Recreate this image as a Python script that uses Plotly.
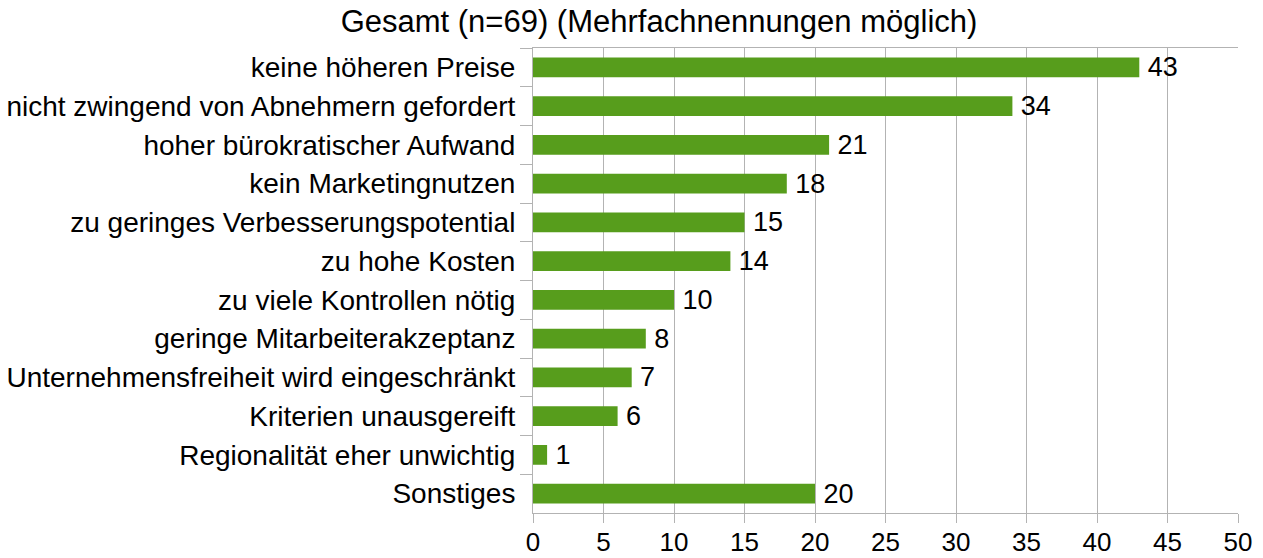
import plotly.graph_objects as go

categories = [
    "keine höheren Preise",
    "nicht zwingend von Abnehmern gefordert",
    "hoher bürokratischer Aufwand",
    "kein Marketingnutzen",
    "zu geringes Verbesserungspotential",
    "zu hohe Kosten",
    "zu viele Kontrollen nötig",
    "geringe Mitarbeiterakzeptanz",
    "Unternehmensfreiheit wird eingeschränkt",
    "Kriterien unausgereift",
    "Regionalität eher unwichtig",
    "Sonstiges",
]
counts = [43, 34, 21, 18, 15, 14, 10, 8, 7, 6, 1, 20]
x_ticks = [0, 5, 10, 15, 20, 25, 30, 35, 40, 45, 50]

FONT = "Liberation Sans, Arial, sans-serif"
GRID = "#b3b3b3"

fig = go.Figure(go.Bar(
    x=counts,
    y=categories,
    orientation="h",
    marker_color="#579d1c",
    marker_line_width=0,
    texttemplate="\u2009%{x}",
    textposition="outside",
    constraintext="none",
    textfont=dict(size=27, color="black", family=FONT),
    cliponaxis=False,
))

fig.update_layout(
    width=1263,
    height=558,
    margin=dict(l=533, r=25, t=48, b=45),
    paper_bgcolor="white",
    plot_bgcolor="white",
    bargap=0.49,
    showlegend=False,
    font=dict(family=FONT, size=28, color="black"),
    title=dict(
        text="Gesamt (n=69) (Mehrfachnennungen möglich)",
        x=659 / 1263, xanchor="center",
        y=1 - 21 / 558, yanchor="middle",
        font=dict(size=31, color="black", family=FONT),
    ),
)

fig.update_xaxes(
    range=[0, 50],
    tickvals=x_ticks,
    showgrid=True, gridcolor=GRID, gridwidth=1,
    showline=True, linecolor=GRID, linewidth=1, mirror=True,
    ticks="outside", ticklen=9, tickcolor=GRID,
    ticklabelstandoff=-3,
    zeroline=False,
    automargin=False,
    tickfont=dict(size=26),
)
fig.update_yaxes(
    autorange="reversed",
    showgrid=False,
    showline=True, linecolor=GRID, linewidth=1,
    ticks="outside", ticklen=12, tickcolor=GRID,
    tickson="boundaries",
    ticklabelstandoff=11,
    automargin=False,
    tickfont=dict(size=28),
)

# drop the default body margin so the figure sits at the window's corner
fig.write_html(
    "out.html",
    config={"displayModeBar": False},
    post_script="document.body.style.margin='0';",
)
